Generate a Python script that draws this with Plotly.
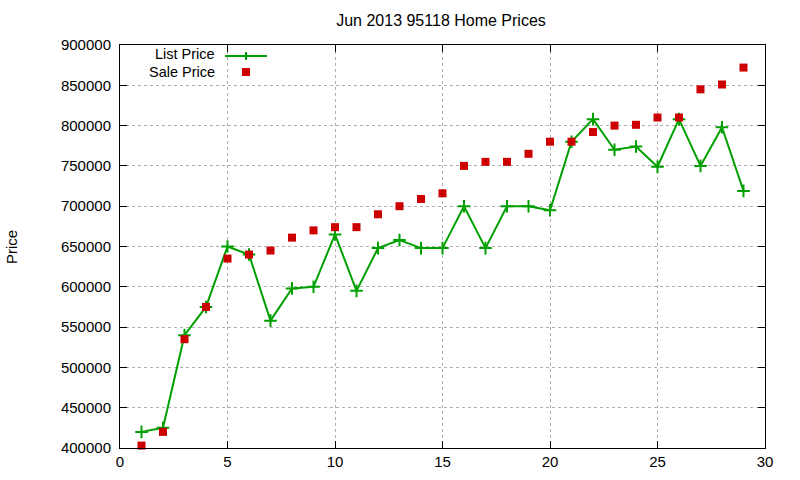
import plotly.graph_objects as go

days = list(range(1, 30))
list_price = [420000, 425000, 540000, 575000, 650000, 640000, 558000, 598000, 600000, 665000,
              595000, 648000, 658000, 648000, 648000, 700000, 648000, 700000, 700000, 695000,
              780000, 808000, 770000, 774000, 749000, 808000, 750000, 798000, 719000]
sale_price = [403000, 420000, 535000, 575000, 635000, 640000, 645000, 661000, 670000, 674000,
              674000, 690000, 700000, 709000, 716000, 750000, 755000, 755000, 765000, 780000,
              780000, 792000, 800000, 801000, 810000, 810000, 845000, 851000, 872000]
x_ticks = [0, 5, 10, 15, 20, 25, 30]
y_ticks = list(range(400000, 900001, 50000))

GREEN = "#00a000"
RED = "#cc0000"
FONT = "Liberation Sans, Arial, sans-serif"

fig = go.Figure()
fig.add_trace(go.Scatter(
    x=days, y=list_price, mode="lines+markers", name="List Price",
    line=dict(color=GREEN, width=2),
    marker=dict(symbol="cross-thin", size=9, line=dict(color=GREEN, width=2)),
    showlegend=False, cliponaxis=False))
fig.add_trace(go.Scatter(
    x=days, y=sale_price, mode="markers", name="Sale Price",
    marker=dict(symbol="square", size=8, color=RED),
    showlegend=False, cliponaxis=False))

L, R, T, B = 120, 35, 45, 32
W, H = 800, 480
pw, ph = W - L - R, H - T - B

def px_x(p):
    return (p - L) / pw

def px_y(p):
    return 1 - (p - T) / ph

# legend (gnuplot style: text then sample)
fig.add_annotation(x=px_x(217), y=px_y(54), xref="paper", yref="paper", text="List Price",
                   showarrow=False, xanchor="right", yanchor="middle", font=dict(size=14.5, color="black", family=FONT))
fig.add_annotation(x=px_x(217), y=px_y(71.5), xref="paper", yref="paper", text="Sale Price",
                   showarrow=False, xanchor="right", yanchor="middle", font=dict(size=14.5, color="black", family=FONT))
fig.add_shape(type="line", xref="paper", yref="paper", x0=px_x(225), x1=px_x(267), y0=px_y(56), y1=px_y(56),
              line=dict(color=GREEN, width=2))
fig.add_shape(type="line", xref="paper", yref="paper", x0=px_x(246), x1=px_x(246), y0=px_y(52), y1=px_y(60),
              line=dict(color=GREEN, width=2))
fig.add_shape(type="rect", xref="paper", yref="paper", x0=px_x(242), x1=px_x(250), y0=px_y(68), y1=px_y(76),
              line=dict(width=0), fillcolor=RED)

fig.add_annotation(x=px_x(12), y=px_y(247), xref="paper", yref="paper", text="Price", textangle=-90,
                   showarrow=False, xanchor="center", yanchor="middle", font=dict(size=15, color="black", family=FONT))

axis_common = dict(
    showline=True, linecolor="black", linewidth=1, mirror="allticks",
    ticks="inside", ticklen=7, tickcolor="black", tickwidth=1,
    showgrid=True, gridcolor="#b0b0b0", griddash="dot", gridwidth=1,
    zeroline=False, tickfont=dict(size=15, color="black", family=FONT),
)
fig.update_xaxes(range=[0, 30], tickvals=x_ticks, ticktext=[str(v) for v in x_ticks], **axis_common)
fig.update_yaxes(range=[400000, 900000], tickvals=y_ticks, ticktext=[str(v) for v in y_ticks],
                 ticklabelstandoff=5, **axis_common)

fig.update_layout(
    width=W, height=H,
    margin=dict(l=L, r=R, t=T, b=B, autoexpand=False),
    paper_bgcolor="white", plot_bgcolor="white",
    title=dict(text="Jun 2013 95118 Home Prices", x=441 / W, xanchor="center",
               y=1 - 20 / H, yanchor="middle", font=dict(size=16, color="black", family=FONT)),
    font=dict(family=FONT, color="black"),
)

fig.write_html("out.html")
